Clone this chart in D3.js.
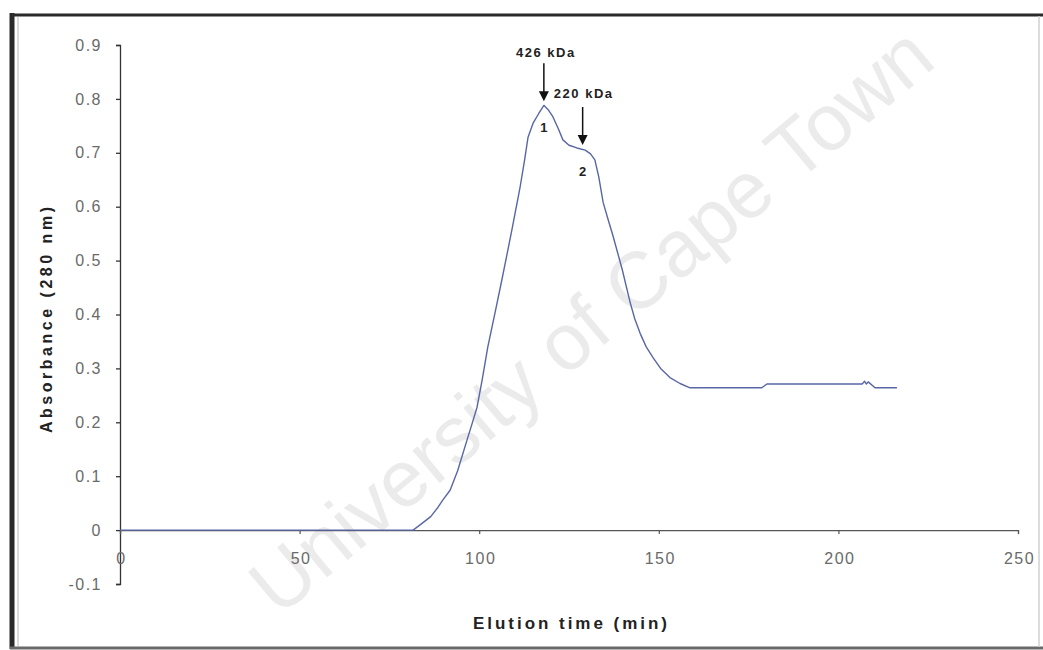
<!DOCTYPE html>
<html>
<head>
<meta charset="utf-8">
<script src="https://cdn.jsdelivr.net/npm/d3@7"></script>
<style>
  html, body { margin: 0; padding: 0; background: #fff; }
  svg { display: block; }
</style>
</head>
<body>
<script>
// Gel-filtration elution profile: absorbance at 280 nm versus elution time
const elutionTime = [0, 81.6, 84, 86.5, 88.5, 89.9, 91.9, 94, 96.6, 98, 99.4, 100.8, 102.4, 104.4, 106.3,
  107.7, 109.1, 111.4, 112.6, 113.6, 115.0, 116.5, 118.0, 119.2, 120.5, 122, 123.3, 125, 127.2, 129.5,
  131, 132.2, 133.3, 134.5, 135.8, 137.2, 139.8, 142.0, 143.3, 144.8, 146.5, 148.4, 150.5, 153.1,
  155.9, 158.7, 178.7, 180.1, 206.6, 207.3, 207.8, 208.3, 210.2, 216.3];
const absorbance = [0, 0, 0.012, 0.025, 0.042, 0.056, 0.074, 0.11, 0.167, 0.197, 0.228, 0.278, 0.340, 0.403, 0.464,
  0.51, 0.557, 0.637, 0.685, 0.729, 0.755, 0.772, 0.788, 0.780, 0.767, 0.745, 0.724, 0.714, 0.709, 0.705,
  0.698, 0.687, 0.655, 0.608, 0.578, 0.547, 0.484, 0.423, 0.392, 0.365, 0.340, 0.320, 0.300, 0.283,
  0.272, 0.264, 0.264, 0.271, 0.271, 0.276, 0.271, 0.275, 0.264, 0.264];

const xTicks = [0, 50, 100, 150, 200, 250];
const xTickLabels = ["0", "50", "100", "150", "200", "250"];
const yTicks = [-0.1, 0, 0.1, 0.2, 0.3, 0.4, 0.5, 0.6, 0.7, 0.8, 0.9];
const yTickLabels = ["-0.1", "0", "0.1", "0.2", "0.3", "0.4", "0.5", "0.6", "0.7", "0.8", "0.9"];

// Marked peaks: elution time, absorbance, size label, peak number
const peakTimes = [118.0, 128.8];
const peakAbs = [0.788, 0.707];
const peakLabels = ["426 kDa", "220 kDa"];
const peakNumbers = ["1", "2"];

const xTitle = "Elution time (min)";
const yTitle = "Absorbance (280 nm)";
const watermark = "University of Cape Town";

const W = 1043, H = 650;
const svg = d3.select("body").append("svg").attr("width", W).attr("height", H);

const x = d3.scaleLinear().domain([0, 250]).range([120, 1018]);
const y = d3.scaleLinear().domain([-0.1, 0.9]).range([584, 45]);

// frame
svg.append("rect").attr("x", 0).attr("y", 0).attr("width", W).attr("height", H).attr("fill", "#fff");
svg.append("line").attr("x1", 12).attr("x2", 12).attr("y1", 13).attr("y2", 649)
  .attr("stroke", "#2a2a2a").attr("stroke-width", 5);
svg.append("line").attr("x1", 10).attr("x2", W).attr("y1", 15).attr("y2", 15)
  .attr("stroke", "#2a2a2a").attr("stroke-width", 3);
svg.append("line").attr("x1", 10).attr("x2", W).attr("y1", 648).attr("y2", 648)
  .attr("stroke", "#6a6a6a").attr("stroke-width", 3);
svg.append("line").attr("x1", 1039).attr("x2", 1039).attr("y1", 16).attr("y2", 647)
  .attr("stroke", "#d0d0d0").attr("stroke-width", 1.5);
svg.append("line").attr("x1", 18).attr("x2", 18).attr("y1", 17).attr("y2", 646)
  .attr("stroke", "#cfcfcf").attr("stroke-width", 1.5);

// watermark
svg.append("text")
  .attr("transform", "translate(595,325) rotate(-40)")
  .attr("text-anchor", "middle")
  .attr("dominant-baseline", "middle")
  .attr("font-family", "Liberation Sans, Arial, sans-serif")
  .attr("font-size", 80)
  .attr("fill", "#ebebeb")
  .text(watermark);

const tickFont = "Liberation Sans, Arial, sans-serif";

// y axis
const yAxis = d3.axisLeft(y).tickValues(yTicks)
  .tickFormat((d, i) => yTickLabels[i]).tickSize(4).tickPadding(14);
const gy = svg.append("g").attr("transform", `translate(${x(0)},0)`).call(yAxis);
gy.select(".domain").attr("stroke", "#333").attr("stroke-width", 1.3);
gy.selectAll(".tick line").attr("stroke", "#333").attr("stroke-width", 1.3);
gy.selectAll(".tick text").attr("font-family", tickFont).attr("font-size", 16)
  .attr("fill", "#6a6a6a").attr("letter-spacing", "1.5px");

// x axis at absorbance 0
const xAxis = d3.axisBottom(x).tickValues(xTicks)
  .tickFormat((d, i) => xTickLabels[i]).tickSize(4).tickPadding(19);
const gx = svg.append("g").attr("transform", `translate(0,${y(0)})`).call(xAxis);
gx.select(".domain").attr("stroke", "#555").attr("stroke-width", 1.2);
gx.selectAll(".tick line").attr("stroke", "#555").attr("stroke-width", 1.2);
gx.selectAll(".tick text").attr("font-family", tickFont).attr("font-size", 16)
  .attr("fill", "#6a6a6a").attr("letter-spacing", "1.5px").attr("dx", "1px");

// elution curve
const pts = elutionTime.map((t, i) => [t, absorbance[i]]);
svg.append("path")
  .datum(pts)
  .attr("fill", "none")
  .attr("stroke", "#5866a6")
  .attr("stroke-width", 1.4)
  .attr("stroke-linejoin", "round")
  .attr("d", d3.line().x(d => x(d[0])).y(d => y(d[1])));

// peak arrows and labels
const labelFont = "Liberation Sans, Arial, sans-serif";
peakTimes.forEach((t, i) => {
  const px = x(t), tip = y(peakAbs[i]) - 4;
  const top = tip - 38;
  svg.append("line").attr("x1", px).attr("x2", px).attr("y1", top).attr("y2", tip - 8)
    .attr("stroke", "#111").attr("stroke-width", 1.5);
  svg.append("path")
    .attr("d", `M${px - 5},${tip - 10} L${px + 5},${tip - 10} L${px},${tip} Z`)
    .attr("fill", "#111");
  svg.append("text")
    .attr("x", px).attr("y", tip + 31)
    .attr("text-anchor", "middle")
    .attr("font-family", labelFont).attr("font-weight", "bold").attr("font-size", 13)
    .attr("fill", "#222")
    .text(peakNumbers[i]);
});
// size labels: first above its arrow, second beside the first arrowhead
svg.append("text")
  .attr("x", x(peakTimes[0]) + 2).attr("y", y(peakAbs[0]) - 48)
  .attr("text-anchor", "middle")
  .attr("font-family", labelFont).attr("font-weight", "bold").attr("font-size", 13)
  .attr("letter-spacing", "1.5px").attr("fill", "#222")
  .text(peakLabels[0]);
svg.append("text")
  .attr("x", x(peakTimes[0]) + 10).attr("y", y(peakAbs[0]) - 7)
  .attr("text-anchor", "start")
  .attr("font-family", labelFont).attr("font-weight", "bold").attr("font-size", 13)
  .attr("letter-spacing", "1.5px").attr("fill", "#222")
  .text(peakLabels[1]);

// axis titles
svg.append("text")
  .attr("x", 570).attr("y", 629)
  .attr("text-anchor", "middle")
  .attr("font-family", labelFont).attr("font-weight", "bold").attr("font-size", 17)
  .attr("fill", "#222")
  .attr("textLength", 194).attr("lengthAdjust", "spacing")
  .text(xTitle);
svg.append("text")
  .attr("transform", "translate(52,320) rotate(-90)")
  .attr("text-anchor", "middle")
  .attr("font-family", labelFont).attr("font-weight", "bold").attr("font-size", 16)
  .attr("fill", "#222")
  .attr("textLength", 226).attr("lengthAdjust", "spacing")
  .text(yTitle);
</script>
</body>
</html>
